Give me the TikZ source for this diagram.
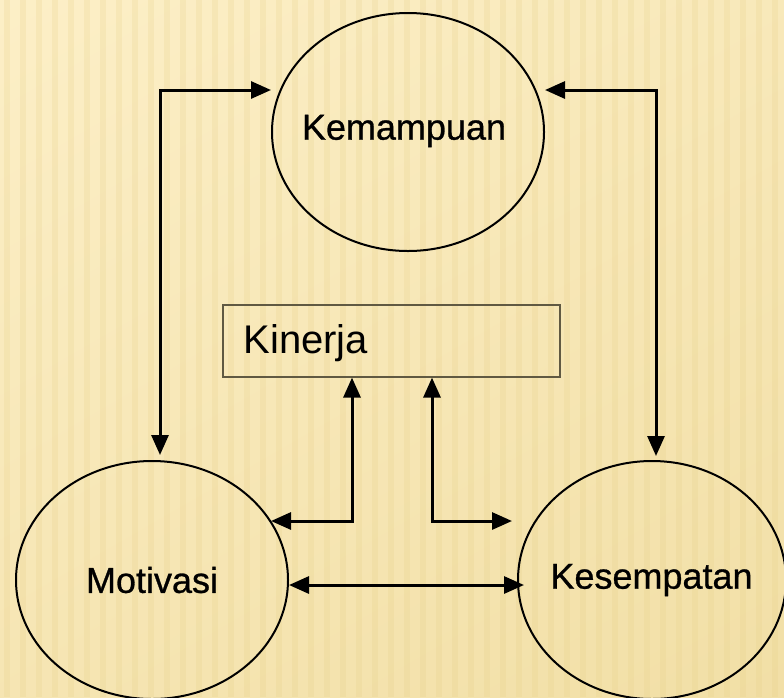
\documentclass[tikz,border=0pt]{standalone}
\usepackage{fontspec}
\setmainfont{Liberation Sans}
\newfontfamily\labfont[FakeBold=0.8]{Liberation Sans}
\usetikzlibrary{shapes.geometric,arrows.meta,calc}
\definecolor{bgA}{HTML}{FDF0C9}
\definecolor{bgB}{HTML}{F1DEA4}
\definecolor{stripe}{HTML}{E6CF86}
\begin{document}
\begin{tikzpicture}[x=1pt,y=-1pt,
  oval/.style={draw=black,line width=2pt,ellipse,minimum width=272pt,minimum height=238pt,inner sep=0pt},
  lab/.style={inner sep=0pt,font=\labfont\fontsize{36}{40}\selectfont},
  conn/.style={line width=3pt,{Triangle[length=20pt,width=17pt]}-{Triangle[length=20pt,width=17pt]}},
  kbox/.style={draw=black!60!bgB,line width=1.2pt,minimum width=337pt,minimum height=72pt,inner sep=0pt}]
\useasboundingbox (0,0) rectangle (784,697);
\clip (0,0) rectangle (784,697);
\shade[top color=bgA,bottom color=bgB,shading angle=30] (-200,-200) rectangle (984,897);
\foreach \i in {0,...,48}{
  \fill[stripe,opacity=0.22] ({\i*16+4},0) rectangle ({\i*16+10},697);
}
% nodes
\node[oval] (kem) at (408,132) {};
\node[oval] (mot) at (152,580) {};
\node[oval,minimum width=268pt] (kes) at (652,580) {};
\node[lab] (kemt) at (404,131) {Kemampuan};
\node[lab] (mott) at (152,580) {Motivasi};
\node[lab] (kest) at (651.5,580) {Kesempatan};
\node[kbox] (kin) at (391.5,341) {};
\node[anchor=west,font=\fontsize{40}{44}\selectfont,inner sep=0pt] (kint) at ($(kin.west)+(21,2)$) {Kinerja};
% connector points
\coordinate (lt) at (160,90);
\coordinate (lb) at (160,455);
\coordinate (rt) at (656,90);
\coordinate (rb) at (656,456);
\coordinate (ka) at (352,521);
\coordinate (kb) at (432,521);
\coordinate (kae) at (271,521);
\coordinate (kbe) at (512,521);
% connectors
\draw[conn] (lb) -- (lt) -- (kem.west |- lt);
\draw[conn] (kem.east |- rt) -- (rt) -- (rb);
\draw[conn] (kin.south -| ka) -- (ka) -- (kae);
\draw[conn] (kin.south -| kb) -- (kb) -- (kbe);
\draw[conn] ($(mot.east)+(0,5)$) -- ($(kes.west)+(7,5)$);
\end{tikzpicture}
\end{document}
